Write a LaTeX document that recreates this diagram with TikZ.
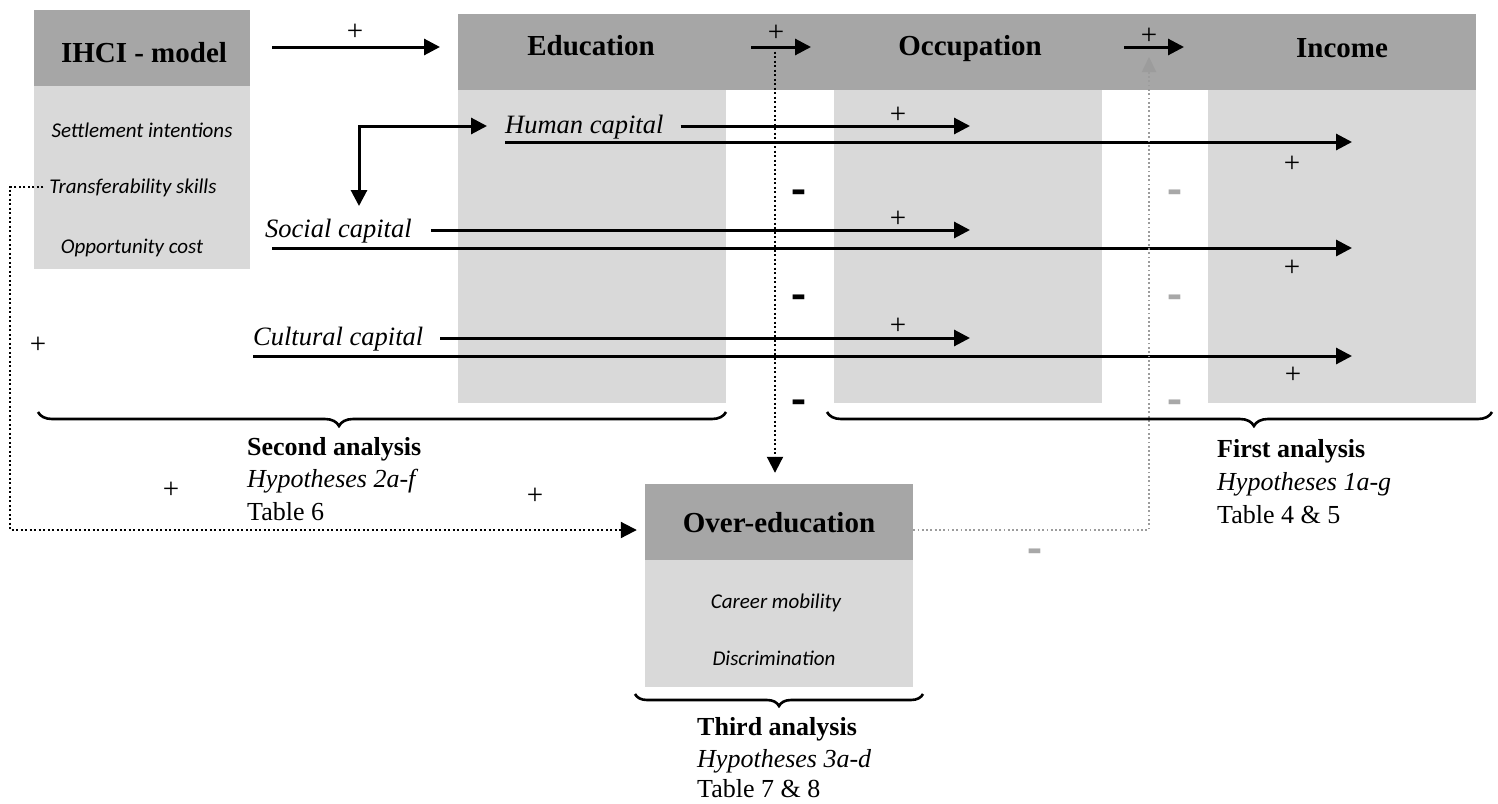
\documentclass[tikz,border=0pt]{standalone}
\usepackage{fontspec}
\setmainfont{Liberation Serif}
\newfontfamily\calfont{Carlito}
\usetikzlibrary{arrows.meta,decorations.pathreplacing}
\definecolor{hdrgray}{HTML}{A6A6A6}
\definecolor{boxgray}{HTML}{D9D9D9}
\definecolor{midgray}{HTML}{9C9C9C}
\definecolor{mingray}{HTML}{A8A8A8}
\tikzset{
  hdrfill/.style={fill=hdrgray, inner sep=0, draw=none},
  hdrtxt/.style={inner sep=0, anchor=base, font=\fontsize{29}{34}\selectfont\bfseries},
  captxt/.style={inner sep=0, anchor=base west, font=\fontsize{26.5}{30}\selectfont\itshape},
  subtxt/.style={inner sep=0, anchor=base, font=\fontsize{21}{25}\selectfont\calfont\itshape},
  plus/.style={inner sep=0, font=\fontsize{29}{32}\selectfont},
  minus/.style={inner sep=0, anchor=base, font=\fontsize{28}{30}\selectfont\bfseries},
  gminus/.style={minus, text=mingray},
  arr/.style={line width=3pt, -{Triangle[length=16pt,width=16pt]}},
  dblarr/.style={line width=3pt, {Triangle[length=16pt,width=16pt]}-{Triangle[length=16pt,width=16pt]}},
  dots/.style={line width=2pt, dash pattern=on 2pt off 2.5pt},
  gdots/.style={line width=1.8pt, midgray, dash pattern=on 1.8pt off 2.5pt},
  brc/.style={decorate, line width=2.6pt},
  lbl/.style={inner sep=0, anchor=base west, font=\fontsize{26}{30}\selectfont},
}
\newcommand{\thickdash}{\scalebox{1.6}[2]{-}}
\begin{document}
\begin{tikzpicture}[x=1pt,y=-1pt]
\useasboundingbox (0,0) rectangle (1498,803);

% light panels
\fill[boxgray] (34,86) rectangle (250,269);
\fill[boxgray] (458,90) rectangle (726,403);
\fill[boxgray] (834,90) rectangle (1102,403);
\fill[boxgray] (1208,90) rectangle (1476,403);
\fill[boxgray] (645,560) rectangle (913,687);

% header fills
\node[hdrfill, minimum width=216, minimum height=76] (ihci) at (142,48) {};
\node[hdrfill, minimum width=1018, minimum height=76] (bar) at (967,52) {};
\node[hdrfill, minimum width=268, minimum height=76] (over) at (779,522) {};

% header texts
\node[hdrtxt] (ihcit) at (144,62) {IHCI - model};
\node[hdrtxt] (edut) at (591,55) {Education};
\node[hdrtxt] (occt) at (970,55) {Occupation};
\node[hdrtxt] (inct) at (1342,57) {Income};
\node[hdrtxt] (overt) at (779,532) {Over-education};

% sub texts
\node[subtxt] (set) at (142,137) {Settlement intentions};
\node[subtxt] (tsk) at (133,193) {Transferability skills};
\node[subtxt] (opp) at (132,253) {Opportunity cost};
\node[subtxt] (car) at (776,608) {Career mobility};
\node[subtxt] (dis) at (774,665) {Discrimination};

% capital texts
\node[captxt] (hc) at (505,133) {Human capital};
\node[captxt] (sc) at (265,237) {Social capital};
\node[captxt] (cc) at (253,345) {Cultural capital};

% top arrows
\coordinate (a1s) at (272,47);
\coordinate (a1e) at (440,47);
\draw[arr] (a1s) -- (a1e);
\coordinate (a2s) at (751,47);
\coordinate (a2e) at (811,47);
\draw[arr] (a2s) -- (a2e);
\coordinate (a3s) at (1124,47);
\coordinate (a3e) at (1184,47);
\draw[arr] (a3s) -- (a3e);

% elbow double arrow
\coordinate (eD) at (359,206);
\coordinate (eR) at (487,126);
\draw[dblarr] (eD) |- (eR);

% capital arrows
\coordinate (hcA) at (970,126);
\coordinate (hcB0) at (505,142);
\coordinate (hcB) at (1352,142);
\draw[arr, shorten <=17pt] (hc.east |- hcA) -- (hcA);
\draw[arr] (hcB0) -- (hcB);

\coordinate (scA) at (970,230);
\coordinate (scB0) at (272,248);
\coordinate (scB) at (1352,248);
\draw[arr, shorten <=19pt] (sc.east |- scA) -- (scA);
\draw[arr] (scB0) -- (scB);

\coordinate (ccA) at (970,338);
\coordinate (ccB0) at (253,356);
\coordinate (ccB) at (1352,356);
\draw[arr, shorten <=17pt] (cc.east |- ccA) -- (ccA);
\draw[arr] (ccB0) -- (ccB);

% dotted connectors
\coordinate (vd0) at (775,47);
\draw[dots, -{Triangle[length=16pt,width=16pt]}, shorten >=11pt] (vd0) -- (vd0 |- over.north);

\coordinate (gup) at (1149,57);
\draw[gdots, -{Triangle[length=15pt,width=14pt]}] (over.east |- 0,530) -| (gup);

\coordinate (tl) at (10,187);
\coordinate (bl) at (10,530);
\draw[dots, -{Triangle[length=16pt,width=16pt]}, shorten >=8pt] ([xshift=-6pt]tsk.west |- tl) -- (tl) -- (bl) -- (bl -| over.west);

% plus signs
\node[plus] (p1) at (355,32) {+};
\node[plus] (p2) at (776,33) {+};
\node[plus] (p3) at (1149,36) {+};
\node[plus] (p4) at (898,115) {+};
\node[plus] (p5) at (898,219) {+};
\node[plus] (p6) at (898,326) {+};
\node[plus] (p7) at (1292,164) {+};
\node[plus] (p8) at (1292,268) {+};
\node[plus] (p9) at (1293,375) {+};
\node[plus] (p10) at (38,345) {+};
\node[plus] (p11) at (171,490) {+};
\node[plus] (p12) at (535,496) {+};

% minus signs
\node[minus] (m1) at (799,205) {\thickdash};
\node[minus] (m2) at (799,310) {\thickdash};
\node[minus] (m3) at (799,415) {\thickdash};
\node[gminus] (g1) at (1175,205) {\thickdash};
\node[gminus] (g2) at (1175,310) {\thickdash};
\node[gminus] (g3) at (1175,415) {\thickdash};
\node[gminus] (g4) at (1035,564) {\thickdash};

% braces
\draw[brc, decoration={brace, mirror, amplitude=14pt, aspect=0.4375}] (38,412) -- (726,412);
\draw[brc, decoration={brace, mirror, amplitude=14pt, aspect=0.642}] (827,412) -- (1492,412);
\draw[brc, decoration={brace, mirror, amplitude=12pt, aspect=0.5}] (635,694) -- (923,694);

% analysis labels
\node[lbl, font=\fontsize{26}{30}\selectfont\bfseries] (sa1) at (247,455) {Second analysis};
\node[lbl, font=\fontsize{26}{30}\selectfont\itshape] (sa2) at (247,487) {Hypotheses 2a-f};
\node[lbl] (sa3) at (247,520) {Table 6};
\node[lbl, font=\fontsize{26}{30}\selectfont\bfseries] (fa1) at (1217,457) {First analysis};
\node[lbl, font=\fontsize{26}{30}\selectfont\itshape] (fa2) at (1217,490) {Hypotheses 1a-g};
\node[lbl] (fa3) at (1217,523) {Table 4 \& 5};
\node[lbl, font=\fontsize{26}{30}\selectfont\bfseries] (ta1) at (697,735) {Third analysis};
\node[lbl, font=\fontsize{26}{30}\selectfont\itshape] (ta2) at (697,767) {Hypotheses 3a-d};
\node[lbl] (ta3) at (697,797) {Table 7 \& 8};
\end{tikzpicture}
\end{document}
